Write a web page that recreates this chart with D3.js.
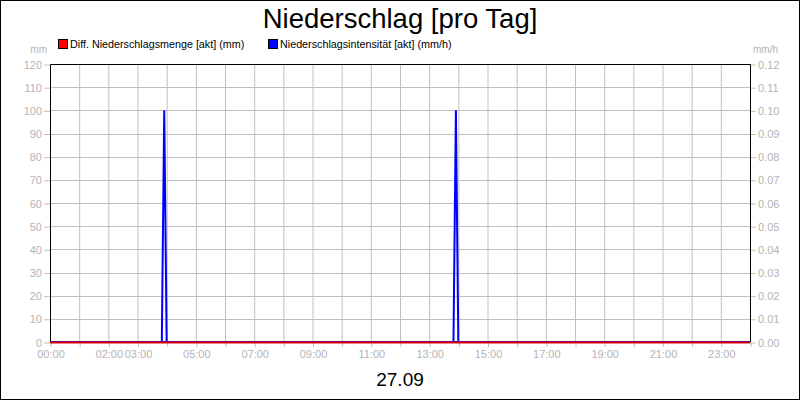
<!DOCTYPE html>
<html>
<head>
<meta charset="utf-8">
<script src="https://cdn.jsdelivr.net/npm/d3@7"></script>
<style>
body { margin: 0; background: #fff; }
svg { display: block; font-family: "Liberation Sans", Arial, sans-serif; }
.tick text { fill: #b4b4b4; font-size: 11px; }
</style>
</head>
<body>
<div class="container"></div>
<script>
// times in hours, 5 minute steps around the two showers
var mengeTimes = [0, 24];
var mengeValues = [0, 0];
var intensTimes = [0, 3 + 50/60, 3 + 55/60, 4, 13 + 50/60, 13 + 55/60, 14, 24];
var intensValues = [0, 0, 0.10, 0, 0, 0.10, 0, 0];
var xTickHours = [0, 2, 3, 5, 7, 9, 11, 13, 15, 17, 19, 21, 23];
var leftTicks = [0, 10, 20, 30, 40, 50, 60, 70, 80, 90, 100, 110, 120];
var rightTicks = [0, 0.01, 0.02, 0.03, 0.04, 0.05, 0.06, 0.07, 0.08, 0.09, 0.10, 0.11, 0.12];
var legendNames = ["Diff. Niederschlagsmenge [akt] (mm)", "Niederschlagsintensit\u00e4t [akt] (mm/h)"];
var legendColors = ["#ff0000", "#0000ff"];

const WIDTH = 800;
const HEIGHT = 400;
const LEFT = 50, RIGHT = 750, TOP = 64, BOTTOM = 342;
const GRID = "#c0c0c0";

var translate = function(x, y){
	return "translate(" + x + "," + y + ")";
};

var pad = function(n){ return (n < 10 ? "0" : "") + n; };

var svg = d3.select('.container').append('svg')
	.attr('width', WIDTH)
	.attr('height', HEIGHT);

svg.append('rect')
	.attr('x', 0.5).attr('y', 0.5)
	.attr('width', WIDTH - 1).attr('height', HEIGHT - 1)
	.attr('fill', '#fff').attr('stroke', '#000');

var xScale = d3.scaleLinear().domain([0, 24]).range([LEFT, RIGHT]);
var yLeft = d3.scaleLinear().domain([0, 120]).range([BOTTOM, TOP]);
var yRight = d3.scaleLinear().domain([0, 0.12]).range([BOTTOM, TOP]);

// grid
svg.append('g').selectAll('line').data(d3.range(1, 24))
	.enter().append('line')
	.attr('x1', function(d){ return xScale(d) + 0.5; })
	.attr('x2', function(d){ return xScale(d) + 0.5; })
	.attr('y1', TOP).attr('y2', BOTTOM)
	.attr('stroke', GRID);

svg.append('g').selectAll('line').data(leftTicks.slice(1, -1))
	.enter().append('line')
	.attr('x1', LEFT).attr('x2', RIGHT)
	.attr('y1', function(d){ return Math.round(yLeft(d)) + 0.5; })
	.attr('y2', function(d){ return Math.round(yLeft(d)) + 0.5; })
	.attr('stroke', GRID);

// axes
var xAxis = d3.axisBottom(xScale)
	.tickValues(d3.range(0, 25))
	.tickSize(5)
	.tickPadding(3)
	.tickFormat(function(d){ return xTickHours.indexOf(d) >= 0 ? pad(d) + ":00" : ""; });

var gx = svg.append('g')
	.attr('transform', translate(0.5, BOTTOM))
	.call(xAxis);

var leftAxis = d3.axisLeft(yLeft).tickValues(leftTicks).tickSize(6).tickPadding(2);
var gl = svg.append('g')
	.attr('transform', translate(LEFT, 0.5))
	.call(leftAxis);

var rightAxis = d3.axisRight(yRight).tickValues(rightTicks).tickSize(6).tickPadding(2)
	.tickFormat(d3.format(".2f"));
var gr = svg.append('g')
	.attr('transform', translate(RIGHT, 0.5))
	.call(rightAxis);

[gx, gl, gr].forEach(function(g){
	g.select('.domain').remove();
	g.selectAll('.tick line').attr('stroke', GRID);
	g.selectAll('.tick text').attr('font-family', '"Liberation Sans", Arial, sans-serif');
});

// plot frame
svg.append('path')
	.attr('d', 'M' + (LEFT + 0.5) + ',' + (BOTTOM) + 'V' + (TOP + 0.5) + 'H' + (RIGHT + 0.5) + 'V' + BOTTOM)
	.attr('fill', 'none').attr('stroke', '#000');
svg.append('line')
	.attr('x1', LEFT).attr('x2', RIGHT + 1)
	.attr('y1', BOTTOM - 0.5).attr('y2', BOTTOM - 0.5)
	.attr('stroke', '#000');

// series
var intensLine = d3.line()
	.x(function(d, i){ return xScale(intensTimes[i]); })
	.y(function(d){ return yRight(d); });

svg.append('path')
	.attr('d', intensLine(intensValues))
	.attr('fill', 'none')
	.attr('stroke', '#0000ff')
	.attr('stroke-width', 2);

var mengeLine = d3.line()
	.x(function(d, i){ return xScale(mengeTimes[i]); })
	.y(function(d){ return yLeft(d) + 0.5; });

svg.append('path')
	.attr('d', mengeLine(mengeValues))
	.attr('fill', 'none')
	.attr('stroke', '#e00000')
	.attr('stroke-width', 2);

// title and labels
svg.append('text')
	.attr('x', 400).attr('y', 28)
	.attr('text-anchor', 'middle')
	.attr('font-size', 27.5)
	.text('Niederschlag [pro Tag]');

svg.append('text')
	.attr('x', 47).attr('y', 53)
	.attr('text-anchor', 'end')
	.attr('font-size', 10).attr('fill', '#b4b4b4')
	.text('mm');

svg.append('text')
	.attr('x', 753).attr('y', 53)
	.attr('font-size', 10).attr('fill', '#b4b4b4')
	.text('mm/h');

var legendX = [58, 268];
var legend = svg.append('g').selectAll('g').data(legendNames)
	.enter().append('g')
	.attr('transform', function(d, i){ return translate(legendX[i], 39); });

legend.append('rect')
	.attr('x', 0.5).attr('y', 0.5)
	.attr('width', 9).attr('height', 9)
	.attr('fill', function(d, i){ return legendColors[i]; })
	.attr('stroke', '#000');

legend.append('text')
	.attr('x', 12).attr('y', 9)
	.attr('font-size', 10.75)
	.text(function(d){ return d; });

svg.append('text')
	.attr('x', 400).attr('y', 386)
	.attr('text-anchor', 'middle')
	.attr('font-size', 19)
	.text('27.09');
</script>
</body>
</html>
